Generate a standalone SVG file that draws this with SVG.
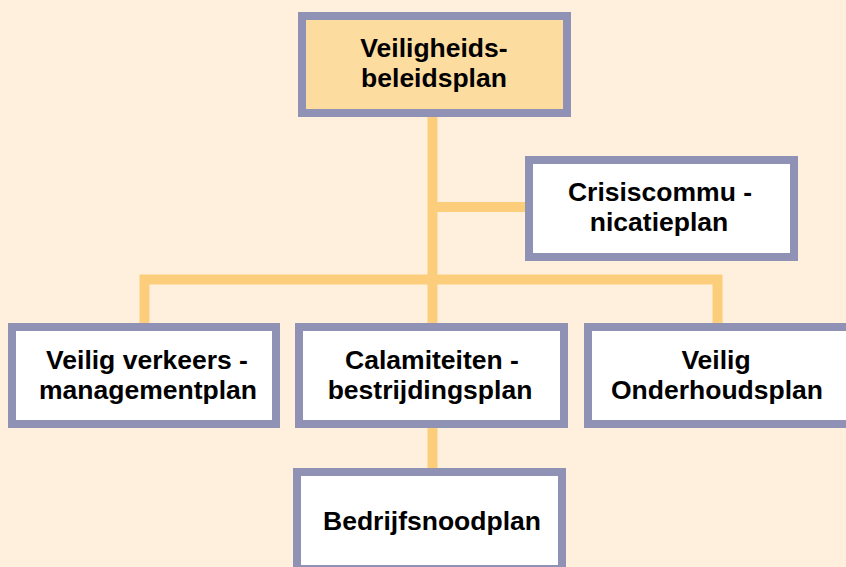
<svg xmlns="http://www.w3.org/2000/svg" width="846" height="567" viewBox="0 0 846 567">
<style>
.box{fill:#ffffff;stroke:#8f92b5;stroke-width:8}
.top{fill:#fddca0}
.conn{fill:none;stroke:#fccd7a;stroke-width:10;stroke-linejoin:miter;stroke-linecap:butt}
text{font-family:"Liberation Sans",Arial,sans-serif;font-weight:bold;font-size:26.5px;fill:#000;text-anchor:middle}
</style>
<rect width="846" height="567" fill="#fef0dd"/>
<g id="connectors">
<path class="conn" d="M432.5 117 V324"/>
<path class="conn" d="M432.5 207 H525"/>
<path class="conn" d="M144.5 323 V279.5 H717.5 V323"/>
<path class="conn" d="M432.5 428 V468"/>
</g>
<g id="veiligheidsbeleidsplan">
<rect class="box top" x="302" y="16" width="265" height="97"/>
<text x="434" y="57">Veiligheids-</text>
<text x="434" y="87">beleidsplan</text>
</g>
<g id="crisiscommunicatieplan">
<rect class="box" x="529" y="160" width="265" height="97"/>
<text x="660" y="201">Crisiscommu -</text>
<text x="659" y="231">nicatieplan</text>
</g>
<g id="verkeersmanagementplan">
<rect class="box" x="12" y="327" width="264" height="97"/>
<text x="147" y="369">Veilig verkeers -</text>
<text x="148" y="399">managementplan</text>
</g>
<g id="calamiteitenbestrijdingsplan">
<rect class="box" x="299" y="327" width="265" height="97"/>
<text x="432" y="369">Calamiteiten -</text>
<text x="430" y="399">bestrijdingsplan</text>
</g>
<g id="onderhoudsplan">
<rect class="box" x="588" y="327" width="265" height="97"/>
<text x="716" y="369">Veilig</text>
<text x="717" y="399">Onderhoudsplan</text>
</g>
<g id="bedrijfsnoodplan">
<rect class="box" x="297" y="472" width="265" height="97"/>
<text x="432" y="530">Bedrijfsnoodplan</text>
</g>
</svg>
